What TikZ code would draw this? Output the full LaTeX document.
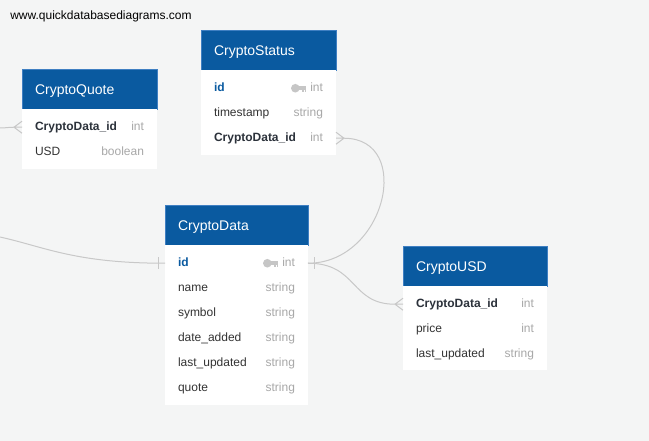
\documentclass[tikz,border=0pt]{standalone}
\usepackage{fontspec}
\setmainfont{Liberation Sans}
\definecolor{hdr}{HTML}{0A5AA0}
\definecolor{hdrline}{HTML}{3F7FC2}
\definecolor{bg}{HTML}{F4F5F5}
\definecolor{txt}{HTML}{333333}
\definecolor{boldc}{HTML}{2C323B}
\definecolor{typc}{HTML}{A8A8A8}
\definecolor{idc}{HTML}{0A5AA0}
\definecolor{keyc}{HTML}{C6C6C6}
\definecolor{linkc}{HTML}{C8C8C8}
\begin{document}
\begin{tikzpicture}[x=0.75pt,y=-0.75pt,
  tbhead/.style={fill=hdr, draw=hdrline, line width=0.5pt, anchor=north west,
    inner xsep=9.75pt, inner ysep=0pt, outer sep=0pt, minimum height=30pt, text width=#1,
    align=left, text=white, font=\fontsize{10.5}{12}\selectfont,
    text height=9pt, text depth=1.4pt},
  tbbody/.style={fill=white, anchor=north west, inner sep=0pt, outer sep=0pt, minimum width=#1},
  field/.style={anchor=north west, inner xsep=9.75pt, inner ysep=0pt, outer sep=0pt,
    minimum height=18.75pt, text width=#1, align=left, text=txt,
    font=\fontsize{9}{11}\selectfont, text height=7pt, text depth=2pt},
  bfield/.style={field=#1, text=boldc, font=\fontsize{9}{11}\selectfont\bfseries},
  kfield/.style={field=#1, text=idc, font=\fontsize{9}{11}\selectfont\bfseries},
  typ/.style={anchor=east, inner sep=0pt, outer sep=0pt, text=typc,
    font=\fontsize{9}{11}\selectfont, text height=7pt, text depth=2pt},
  link/.style={draw=linkc, line width=0.75pt},
  pkkey/.pic={
    \fill[keyc] (-11,0) circle (4.3);
    \fill[keyc] (-8,-1.8) rectangle (0,1.5);
    \fill[keyc] (-4.4,1.5) rectangle (-2.4,4);
    \fill[keyc] (-1.7,1.5) rectangle (0,3.4);
  }
]
\path[fill=bg, use as bounding box] (0,0) rectangle (649,441);

\node[anchor=west, inner sep=0pt, font=\fontsize{9}{11}\selectfont] (url) at (10,16) {www.quickdatabasediagrams.com};

% ---------- CryptoQuote ----------
\node[tbhead=81.75pt] (qh) at (22,69) {CryptoQuote};
\node[tbbody=101.25pt, minimum height=45pt] (qb) at (qh.south west) {};
\node[bfield=81.75pt] (q1) at ([yshift=-4.3pt]qb.north west) {CryptoData\_id};
\node[typ] (q1t) at ([xshift=-9.75pt]q1.east) {int};
\node[field=81.75pt] (q2) at (q1.south west) {USD};
\node[typ] (q2t) at ([xshift=-9.75pt]q2.east) {boolean};

% ---------- CryptoStatus ----------
\node[tbhead=81.75pt] (sh) at (201,30) {CryptoStatus};
\node[tbbody=101.25pt, minimum height=63.75pt] (sb) at (sh.south west) {};
\node[kfield=81.75pt] (s1) at ([yshift=-4.3pt]sb.north west) {id};
\node[typ] (s1t) at ([xshift=-9.75pt]s1.east) {int};
\pic at ([xshift=-3pt]s1t.west) {pkkey};
\node[field=81.75pt] (s2) at (s1.south west) {timestamp};
\node[typ] (s2t) at ([xshift=-9.75pt]s2.east) {string};
\node[bfield=81.75pt] (s3) at (s2.south west) {CryptoData\_id};
\node[typ] (s3t) at ([xshift=-9.75pt]s3.east) {int};

% ---------- CryptoData ----------
\node[tbhead=87.75pt] (dh) at (165,205) {CryptoData};
\node[tbbody=107.25pt, minimum height=120pt] (db) at (dh.south west) {};
\node[kfield=87.75pt] (d1) at ([yshift=-4.3pt]db.north west) {id};
\node[typ] (d1t) at ([xshift=-9.75pt]d1.east) {int};
\pic at ([xshift=-3pt]d1t.west) {pkkey};
\node[field=87.75pt] (d2) at (d1.south west) {name};
\node[typ] (d2t) at ([xshift=-9.75pt]d2.east) {string};
\node[field=87.75pt] (d3) at (d2.south west) {symbol};
\node[typ] (d3t) at ([xshift=-9.75pt]d3.east) {string};
\node[field=87.75pt] (d4) at (d3.south west) {date\_added};
\node[typ] (d4t) at ([xshift=-9.75pt]d4.east) {string};
\node[field=87.75pt] (d5) at (d4.south west) {last\_updated};
\node[typ] (d5t) at ([xshift=-9.75pt]d5.east) {string};
\node[field=87.75pt] (d6) at (d5.south west) {quote};
\node[typ] (d6t) at ([xshift=-9.75pt]d6.east) {string};

% ---------- CryptoUSD ----------
\node[tbhead=88.5pt] (uh) at (403,246) {CryptoUSD};
\node[tbbody=108pt, minimum height=63pt] (ub) at (uh.south west) {};
\node[bfield=88.5pt] (u1) at ([yshift=-4.3pt]ub.north west) {CryptoData\_id};
\node[typ] (u1t) at ([xshift=-9.75pt]u1.east) {int};
\node[field=88.5pt] (u2) at (u1.south west) {price};
\node[typ] (u2t) at ([xshift=-9.75pt]u2.east) {int};
\node[field=88.5pt] (u3) at (u2.south west) {last\_updated};
\node[typ] (u3t) at ([xshift=-9.75pt]u3.east) {string};

% ---------- connectors ----------
\coordinate (ledge1) at (0,237);
\coordinate (ledge2) at (0,128);
\coordinate (qfoot) at ([xshift=-6pt]q1.west);
\coordinate (sfoot) at ([xshift=6pt]s3.east);
\coordinate (ufoot) at ([xshift=-6pt]u1.west);

% CryptoData.id (left) -> off picture
\draw[link] (d1.west) .. controls +(-90,0) and +(45,10) .. (ledge1);
\draw[link] ([xshift=-5.25pt,yshift=4.5pt]d1.west) -- ([xshift=-5.25pt,yshift=-4.5pt]d1.west);

% CryptoQuote.CryptoData_id -> off picture
\draw[link] (qfoot) .. controls +(-6,0) and +(6,0) .. (ledge2);
\draw[link] (qfoot) -- ([yshift=4.5pt]q1.west) (qfoot) -- ([yshift=-4.5pt]q1.west) (qfoot) -- (q1.west);

% CryptoData.id (right) bar
\draw[link] ([xshift=4.5pt,yshift=4.5pt]d1.east) -- ([xshift=4.5pt,yshift=-4.5pt]d1.east);

% CryptoData.id -> CryptoStatus.CryptoData_id
\draw[link] (d1.east) .. controls +(78,0) and +(70,0) .. (sfoot);
\draw[link] (sfoot) -- ([yshift=4.5pt]s3.east) (sfoot) -- ([yshift=-4.5pt]s3.east) (sfoot) -- (s3.east);

% CryptoData.id -> CryptoUSD.CryptoData_id
\draw[link] (d1.east) .. controls +(50,0) and +(-45,0) .. (ufoot);
\draw[link] (ufoot) -- ([yshift=4.5pt]u1.west) (ufoot) -- ([yshift=-4.5pt]u1.west) (ufoot) -- (u1.west);
\end{tikzpicture}
\end{document}
